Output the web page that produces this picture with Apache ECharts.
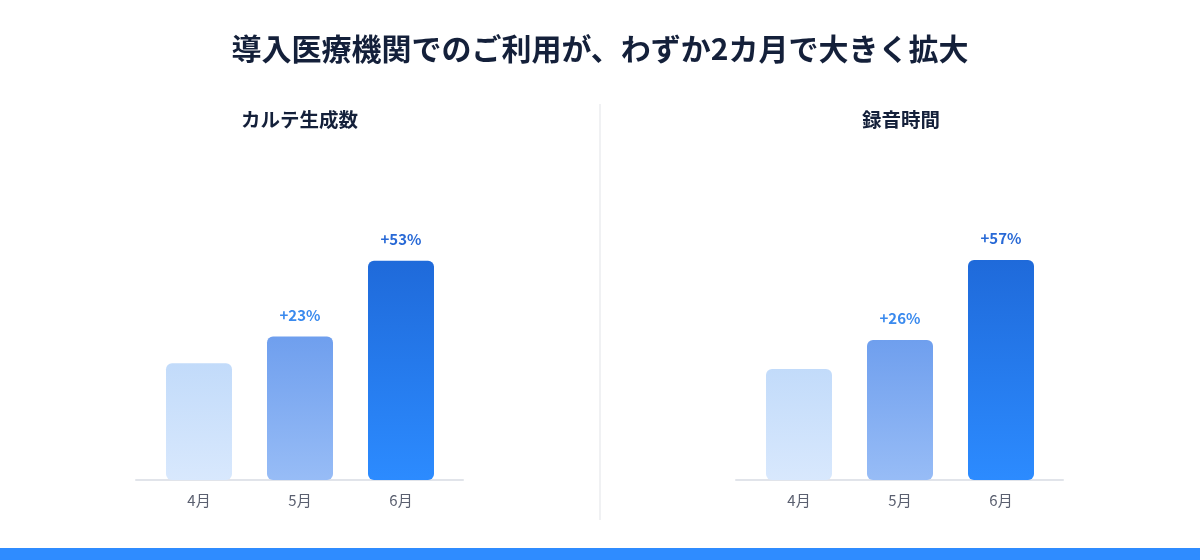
<!DOCTYPE html>
<html><head><meta charset="utf-8">
<script src="https://cdn.jsdelivr.net/npm/echarts@6/dist/echarts.min.js"></script>
<style>html,body{margin:0;padding:0;background:#fff}#c{width:1200px;height:560px}</style>
</head><body><div id="c"></div>
<script>
const months = ['4月', '5月', '6月'];
const karteValues = [100, 123, 188];
const karteGrowth = ['', '+23%', '+53%'];
const recordValues = [100, 126, 198];
const recordGrowth = ['', '+26%', '+57%'];

const FONT = '"Noto Sans CJK JP", "Noto Sans", sans-serif';
const barColors = [
  ['#C2DBFA', '#D8E8FD'],
  ['#6F9FEE', '#97BCF6'],
  ['#1F6ADA', '#2C8BFF']
];
const labelColors = ['#3A8AEE', '#3A8AEE', '#2869D6'];

function grad(c) {
  return new echarts.graphic.LinearGradient(0, 0, 0, 1, [
    { offset: 0, color: c[0] }, { offset: 1, color: c[1] }
  ]);
}
function buildData(vals, growth) {
  return vals.map((v, i) => ({
    value: v,
    itemStyle: { color: grad(barColors[i]), borderRadius: [6, 6, 6, 6] },
    label: { show: !!growth[i], formatter: growth[i], color: labelColors[i] }
  }));
}

const chart = echarts.init(document.getElementById('c'));
const catAxis = (gi) => ({
  type: 'category', gridIndex: gi, data: months,
  axisLine: { show: false }, axisTick: { show: false },
  axisLabel: { color: '#5B6070', fontSize: 15, margin: 13, fontFamily: FONT }
});
const lineAxis = (gi) => ({
  type: 'category', gridIndex: gi, data: months,
  axisLine: { show: true, lineStyle: { color: '#E1E4EA', width: 2 } },
  axisTick: { show: false }, axisLabel: { show: false }
});
const valAxis = (gi, max) => ({
  type: 'value', gridIndex: gi, min: 0, max: max, show: false, splitLine: { show: false }
});

chart.setOption({
  backgroundColor: '#ffffff',
  animation: false,
  title: [
    { text: '導入医療機関でのご利用が、わずか2カ月で大きく拡大', left: 'center', top: 29,
      textStyle: { fontFamily: FONT, fontSize: 30, fontWeight: 'bold', color: '#14203A' } },
    { text: 'カルテ生成数', left: 236, top: 105,
      textStyle: { fontFamily: FONT, fontSize: 19.5, fontWeight: 'bold', color: '#14203A' } },
    { text: '録音時間', left: 857, top: 105,
      textStyle: { fontFamily: FONT, fontSize: 19.5, fontWeight: 'bold', color: '#14203A' } }
  ],
  grid: [
    { left: 148.5, width: 303, top: 200, height: 280 },
    { left: 136, width: 327, top: 200, height: 280 },
    { left: 748.5, width: 303, top: 200, height: 280 },
    { left: 736, width: 327, top: 200, height: 280 }
  ],
  xAxis: [catAxis(0), lineAxis(1), catAxis(2), lineAxis(3)],
  yAxis: [valAxis(0, 240), valAxis(1, 240), valAxis(2, 252), valAxis(3, 252)],
  series: [
    { type: 'bar', xAxisIndex: 0, yAxisIndex: 0, barWidth: 66, data: buildData(karteValues, karteGrowth),
      label: { position: 'top', distance: 14, fontSize: 15, fontWeight: 'bold', fontFamily: FONT } },
    { type: 'bar', xAxisIndex: 2, yAxisIndex: 2, barWidth: 66, data: buildData(recordValues, recordGrowth),
      label: { position: 'top', distance: 14, fontSize: 15, fontWeight: 'bold', fontFamily: FONT } }
  ],
  graphic: [
    { type: 'line', shape: { x1: 600, y1: 104, x2: 600, y2: 520 }, style: { stroke: '#F0F1F3', lineWidth: 2 } },
    { type: 'rect', shape: { x: 0, y: 548, width: 1200, height: 12 }, style: { fill: '#2F8CFF' } }
  ]
});
</script></body></html>
